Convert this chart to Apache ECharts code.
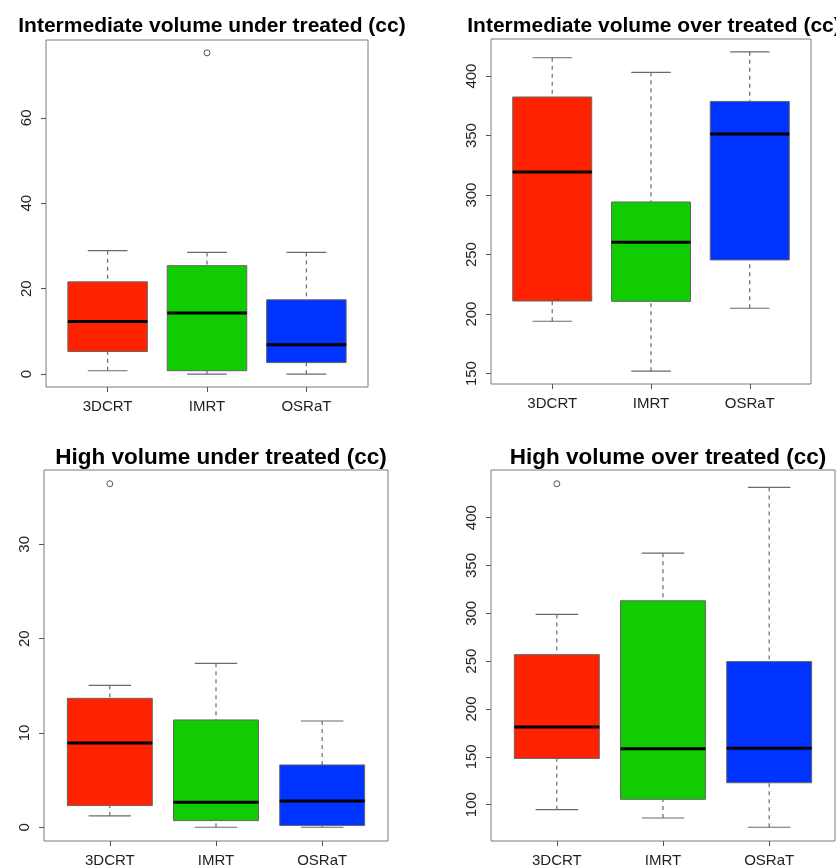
<!DOCTYPE html>
<html>
<head>
<meta charset="utf-8">
<script src="https://cdn.jsdelivr.net/npm/echarts@6/dist/echarts.min.js"></script>
<style>
  html, body { margin: 0; padding: 0; background: #fff; }
  #chart { width: 836px; height: 868px; }
</style>
</head>
<body>
<div id="chart"></div>
<script>
// Treatment techniques compared in every panel
const categories = ['3DCRT', 'IMRT', 'OSRaT'];

// Five-number summaries per technique: [lower whisker, Q1, median, Q3, upper whisker]
const intermUnderStats = [[0.8, 5.3, 12.3, 21.6, 28.9], [0.0, 0.8, 14.3, 25.4, 28.5], [0.0, 2.7, 6.9, 17.4, 28.5]];
const intermUnderOutliers = [[2, 75.2]];
const intermUnderTicks = [0, 20, 40, 60];

const intermOverStats = [[194.0, 211.0, 319.4, 382.4, 415.4], [152.0, 210.7, 260.3, 294.2, 403.1], [204.9, 245.5, 351.3, 378.7, 420.4]];
const intermOverOutliers = [];
const intermOverTicks = [150, 200, 250, 300, 350, 400];

const highUnderStats = [[1.2, 2.3, 8.94, 13.67, 15.05], [0.0, 0.71, 2.65, 11.38, 17.39], [0.0, 0.18, 2.79, 6.61, 11.27]];
const highUnderOutliers = [[1, 36.43]];
const highUnderTicks = [0, 10, 20, 30];

const highOverStats = [[94.8, 148.3, 181.3, 256.8, 298.8], [86.1, 105.6, 158.4, 313.1, 362.8], [76.4, 122.9, 159.1, 249.5, 431.6]];
const highOverOutliers = [[1, 435.4]];
const highOverTicks = [100, 150, 200, 250, 300, 350, 400];

const panelTitles = [
  'Intermediate volume under treated (cc)',
  'Intermediate volume over treated (cc)',
  'High volume under treated (cc)',
  'High volume over treated (cc)'
];

const FONT = '"Liberation Sans", Arial, Helvetica, sans-serif';
const boxColors = ['#FF2200', '#11CC00', '#0033FF'];

const panels = [
  { stats: intermUnderStats, outliers: intermUnderOutliers, ticks: intermUnderTicks,
    grid: { left: 46, top: 40, width: 322, height: 347 }, titleX: 207, titleY: 11, titleSize: 21 },
  { stats: intermOverStats, outliers: intermOverOutliers, ticks: intermOverTicks,
    grid: { left: 491, top: 39, width: 320, height: 345 }, titleX: 649, titleY: 11, titleSize: 21 },
  { stats: highUnderStats, outliers: highUnderOutliers, ticks: highUnderTicks,
    grid: { left: 44, top: 470, width: 344, height: 371 }, titleX: 216, titleY: 441, titleSize: 22.5 },
  { stats: highOverStats, outliers: highOverOutliers, ticks: highOverTicks,
    grid: { left: 491, top: 470, width: 344, height: 372 }, titleX: 663, titleY: 441, titleSize: 22.5 }
];

// Axis range: data extent padded by 4% on each side
function extent(stats, outliers) {
  let lo = Infinity, hi = -Infinity;
  stats.forEach(s => { lo = Math.min(lo, s[0]); hi = Math.max(hi, s[4]); });
  outliers.forEach(o => { lo = Math.min(lo, o[1]); hi = Math.max(hi, o[1]); });
  const pad = (hi - lo) * 0.04;
  return [lo - pad, hi + pad];
}

const nCat = categories.length;
const xPad = nCat * 0.04;

function renderBox(params, api) {
  const x = api.value(0);
  const low = api.value(1), q1 = api.value(2), med = api.value(3), q3 = api.value(4), high = api.value(5);
  const half = 0.4, capHalf = 0.2;
  const pL = api.coord([x - half, q3]);
  const pR = api.coord([x + half, q1]);
  const pMedL = api.coord([x - half, med]);
  const pMedR = api.coord([x + half, med]);
  const pLow = api.coord([x, low]);
  const pHigh = api.coord([x, high]);
  const pQ1 = api.coord([x, q1]);
  const pQ3 = api.coord([x, q3]);
  const capL = api.coord([x - capHalf, low])[0];
  const capR = api.coord([x + capHalf, low])[0];
  const whiskerStyle = { stroke: '#6a6a6a', lineWidth: 1.2, lineDash: [4, 4] };
  const capStyle = { stroke: '#6a6a6a', lineWidth: 1.2 };
  return {
    type: 'group',
    children: [
      { type: 'line', shape: { x1: pHigh[0], y1: pHigh[1], x2: pQ3[0], y2: pQ3[1] }, style: whiskerStyle },
      { type: 'line', shape: { x1: pLow[0], y1: pLow[1], x2: pQ1[0], y2: pQ1[1] }, style: whiskerStyle },
      { type: 'line', shape: { x1: capL, y1: pHigh[1], x2: capR, y2: pHigh[1] }, style: capStyle },
      { type: 'line', shape: { x1: capL, y1: pLow[1], x2: capR, y2: pLow[1] }, style: capStyle },
      { type: 'rect', shape: { x: pL[0], y: pL[1], width: pR[0] - pL[0], height: pR[1] - pL[1] },
        style: { fill: boxColors[(x - 1) % boxColors.length], stroke: '#666', lineWidth: 1 } },
      { type: 'line', shape: { x1: pMedL[0], y1: pMedL[1], x2: pMedR[0], y2: pMedR[1] },
        style: { stroke: '#000', lineWidth: 3 } }
    ]
  };
}

// Outlying observations as small open circles
function renderOutlier(params, api) {
  const p = api.coord([api.value(0), api.value(1)]);
  return {
    type: 'circle',
    shape: { cx: p[0], cy: p[1], r: 3 },
    style: { fill: '#fff', stroke: '#555', lineWidth: 1 }
  };
}

const option = {
  backgroundColor: '#fff',
  animation: false,
  title: [], grid: [], xAxis: [], yAxis: [], series: []
};

panels.forEach((p, i) => {
  const [ymin, ymax] = extent(p.stats, p.outliers);
  option.title.push({
    text: panelTitles[i], left: p.titleX, top: p.titleY, textAlign: 'center',
    textStyle: { fontFamily: FONT, fontWeight: 'bold', fontSize: p.titleSize, color: '#000' }
  });
  option.grid.push(Object.assign({ show: true, borderColor: '#7a7a7a', borderWidth: 1, backgroundColor: 'transparent' }, p.grid));
  option.xAxis.push({
    type: 'value', gridIndex: i, min: 0.5 - xPad, max: nCat + 0.5 + xPad,
    position: 'bottom',
    axisLine: { show: false, onZero: false },
    splitLine: { show: false },
    axisTick: { show: true, length: 5, customValues: categories.map((c, k) => k + 1), lineStyle: { color: '#555' } },
    axisLabel: {
      customValues: categories.map((c, k) => k + 1),
      formatter: v => categories[Math.round(v) - 1],
      margin: 12, fontFamily: FONT, fontSize: 15, color: '#222'
    }
  });
  option.yAxis.push({
    type: 'value', gridIndex: i, min: ymin, max: ymax,
    position: 'left',
    axisLine: { show: false, onZero: false },
    splitLine: { show: false },
    axisTick: { show: true, length: 5, customValues: p.ticks, lineStyle: { color: '#555' } },
    axisLabel: {
      customValues: p.ticks, rotate: 90, margin: 12,
      fontFamily: FONT, fontSize: 15, color: '#222'
    }
  });
  option.series.push({
    type: 'custom', xAxisIndex: i, yAxisIndex: i,
    renderItem: renderBox,
    encode: { x: 0, y: [1, 2, 3, 4, 5] },
    data: p.stats.map((s, k) => [k + 1].concat(s))
  });
  option.series.push({
    type: 'custom', xAxisIndex: i, yAxisIndex: i,
    renderItem: renderOutlier,
    encode: { x: 0, y: 1 },
    data: p.outliers
  });
});

const chart = echarts.init(document.getElementById('chart'), null, { renderer: 'canvas' });
chart.setOption(option);
</script>
</body>
</html>
